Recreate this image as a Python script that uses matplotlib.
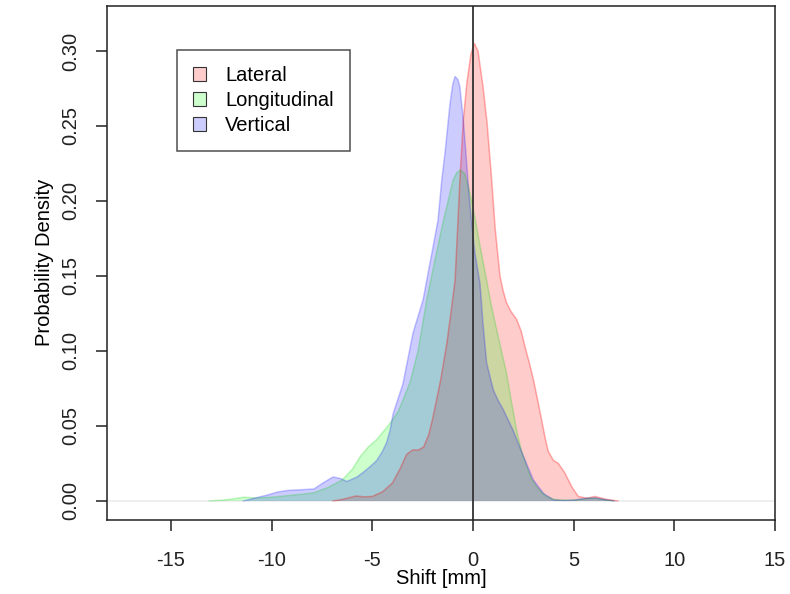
import matplotlib
matplotlib.use('Agg')
import matplotlib.pyplot as plt
from matplotlib.patches import Patch

plt.rcParams['font.family'] = ['Liberation Sans', 'DejaVu Sans']
plt.rcParams['axes.unicode_minus'] = False

# density curves (x in mm, y = density)
series = ['Lateral', 'Longitudinal', 'Vertical']

lat_x = [-6.95, -6.5, -6.2, -5.8, -5.4, -5.0, -4.5, -4.0, -3.6, -3.3, -3.0, -2.7, -2.45, -2.2,
         -2.0, -1.8, -1.6, -1.3, -1.1, -0.89, -0.77, -0.65, -0.48, -0.3, -0.1, 0.07, 0.25, 0.5,
         0.7, 0.93, 1.1, 1.34, 1.5, 1.67, 1.9, 2.17, 2.4, 2.58, 2.8, 3.0, 3.2, 3.41, 3.6, 3.74,
         4.0, 4.24, 4.57, 4.9, 5.23, 5.65, 6.06, 6.6, 7.2]
lat_y = [0.0, 0.001, 0.002, 0.0033, 0.0027, 0.003, 0.006, 0.012, 0.022, 0.031, 0.034, 0.034,
         0.036, 0.044, 0.055, 0.068, 0.081, 0.105, 0.125, 0.147, 0.180, 0.214, 0.254, 0.279,
         0.298, 0.305, 0.300, 0.276, 0.252, 0.214, 0.182, 0.150, 0.140, 0.132, 0.126, 0.121,
         0.113, 0.103, 0.092, 0.081, 0.068, 0.054, 0.041, 0.033, 0.027, 0.025, 0.0185, 0.0096,
         0.003, 0.0018, 0.003, 0.0011, 0.0]

lon_x = [-13.1, -12.5, -12.0, -11.4, -10.8, -10.0, -9.4, -8.5, -7.9, -7.2, -6.5, -6.0, -5.6,
         -5.2, -4.8, -4.3, -4.0, -3.7, -3.13, -2.73, -2.3, -1.9, -1.47, -1.2, -0.99, -0.8, -0.6,
         -0.4, -0.2, 0.0, 0.35, 0.68, 0.9, 1.18, 1.45, 1.67, 1.9, 2.17, 2.4, 2.67, 2.9, 3.16,
         3.4, 3.66, 4.0, 4.3, 4.8, 5.3, 5.8, 6.1, 6.5, 7.0]
lon_y = [0.0, 0.0005, 0.0012, 0.0025, 0.002, 0.0025, 0.0033, 0.0045, 0.0055, 0.009, 0.014,
         0.021, 0.0296, 0.036, 0.0407, 0.0487, 0.054, 0.06, 0.079, 0.100, 0.134, 0.160, 0.187,
         0.202, 0.214, 0.219, 0.2207, 0.218, 0.208, 0.196, 0.17, 0.147, 0.131, 0.114, 0.098,
         0.085, 0.067, 0.047, 0.034, 0.023, 0.015, 0.0096, 0.006, 0.003, 0.0012, 0.0007,
         0.0005, 0.001, 0.0018, 0.0018, 0.0008, 0.0]

ver_x = [-11.4, -10.8, -10.2, -9.7, -9.2, -8.5, -7.9, -7.45, -6.95, -6.6, -6.26, -5.76, -5.46,
         -5.1, -4.78, -4.5, -4.29, -4.12, -3.97, -3.48, -2.98, -2.48, -1.99, -1.74, -1.55,
         -1.39, -1.14, -1.0, -0.89, -0.75, -0.65, -0.48, -0.35, -0.23, -0.1, 0.1, 0.35, 0.5,
         0.68, 1.01, 1.25, 1.5, 2.0, 2.5, 3.0, 3.5, 4.0, 4.5, 5.0, 5.6, 6.1, 6.6, 7.0]
ver_y = [0.0, 0.002, 0.004, 0.006, 0.007, 0.0075, 0.008, 0.012, 0.016, 0.015, 0.013, 0.016,
         0.019, 0.023, 0.027, 0.033, 0.039, 0.047, 0.058, 0.078, 0.112, 0.134, 0.169, 0.187,
         0.214, 0.232, 0.265, 0.278, 0.283, 0.281, 0.276, 0.254, 0.232, 0.21, 0.19, 0.165,
         0.145, 0.118, 0.092, 0.074, 0.067, 0.061, 0.047, 0.03, 0.014, 0.005, 0.0007, 0.0003,
         0.0005, 0.0018, 0.002, 0.0008, 0.0]

x_ticks = [-15, -10, -5, 0, 5, 10, 15]
y_ticks = [0.00, 0.05, 0.10, 0.15, 0.20, 0.25, 0.30]

fills = [(1, 0, 0, 0.2), (0, 1, 0, 0.2), (0, 0, 1, 0.2)]
edges = [(1, 0, 0, 0.3), (0, 0.8, 0, 0.22), (0, 0, 1, 0.22)]

fig = plt.figure(figsize=(7.9, 5.94), dpi=100)
ax = fig.add_axes([0.135, 0.1246, 0.8464, 0.8661])

ax.axhline(0, color='#ececf0', lw=1.2, zorder=0)
for (xs, ys), fc, ec in zip([(lat_x, lat_y), (lon_x, lon_y), (ver_x, ver_y)], fills, edges):
    ax.fill(xs, ys, facecolor=fc, edgecolor='none')
    ax.plot(xs, ys, color=ec, lw=1.1)
ax.axvline(0, color='#333333', lw=1.3)

ax.set_xlim(-18.2, 15.02)
ax.set_ylim(-0.0127, 0.3303)
ax.set_xticks(x_ticks)
ax.set_yticks(y_ticks)
ax.set_yticklabels(['%.2f' % v for v in y_ticks], rotation=90, va='center')
ax.tick_params(direction='out', length=8, width=1.1, labelsize=14.5, colors='#222222')
ax.tick_params(axis='x', pad=14)
ax.tick_params(axis='y', pad=11)
for s in ax.spines.values():
    s.set_linewidth(1.1)
    s.set_color('#222222')

ax.set_xlabel('Shift [mm]', fontsize=14.5)
ax.xaxis.set_label_coords(0.5, -0.1145)
ax.xaxis.label.set_va('center')
ax.set_ylabel('Probability Density', fontsize=14.5)
ax.yaxis.set_label_coords(-0.0923, 0.5)
ax.yaxis.label.set_va('center')

handles = [Patch(facecolor=fc, edgecolor='#333333', lw=0.8) for fc in fills]
leg = ax.legend(handles, series, loc='upper left', bbox_to_anchor=(0.105, 0.9135),
                borderaxespad=0, fontsize=14.5, frameon=True, fancybox=False,
                handlelength=0.65, handleheight=0.65, handletextpad=0.95,
                borderpad=0.8, labelspacing=0.3)
leg.get_frame().set_edgecolor('#222222')
leg.get_frame().set_linewidth(1.1)

fig.savefig('out.png', dpi=100)
